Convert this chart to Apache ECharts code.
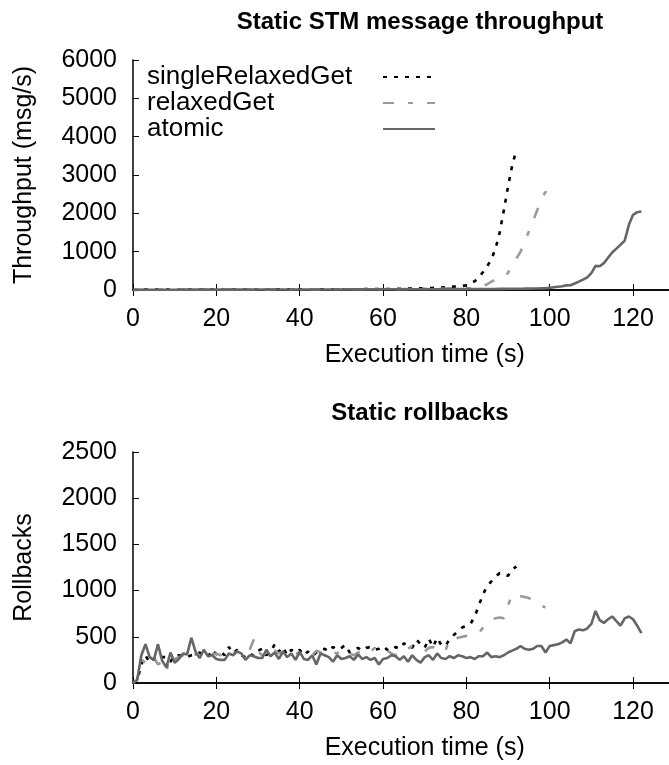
<!DOCTYPE html>
<html>
<head>
<meta charset="utf-8">
<title>Static STM message throughput / rollbacks</title>
<script src="https://cdn.jsdelivr.net/npm/echarts@6/dist/echarts.min.js"></script>
<style>
    html, body { margin: 0; padding: 0; background: #fff; }
    #chart { width: 669px; height: 765px; }
</style>
</head>
<body>
<div id="chart"></div>
<script>
// one sample per second, index = execution time (s)
const STEP_S = 1;
const seriesNames = ['singleRelaxedGet', 'relaxedGet', 'atomic'];
const xTicks = [0, 20, 40, 60, 80, 100, 120];

// throughput (msg/s)
const thrSingleRelaxedGet = [
    0, 5, 8, 10, 10, 12, 10, 12, 11, 12,
    12, 13, 12, 12, 13, 12, 14, 13, 12, 14,
    13, 14, 15, 13, 14, 15, 14, 15, 16, 15,
    15, 16, 15, 16, 17, 16, 15, 17, 16, 17,
    18, 17, 16, 18, 17, 18, 19, 18, 17, 19,
    20, 19, 21, 20, 22, 21, 23, 22, 24, 25,
    26, 28, 27, 30, 32, 34, 36, 38, 42, 45,
    48, 52, 55, 60, 66, 72, 80, 88, 95, 105,
    125, 160, 230, 330, 470, 620, 800, 1080, 1500, 2080,
    2700, 3250, 3650
];
const thrRelaxedGet = [
    0, 4, 6, 8, 8, 9, 9, 10, 10, 10,
    10, 11, 10, 11, 11, 12, 11, 12, 12, 12,
    12, 13, 12, 13, 13, 14, 13, 14, 14, 15,
    14, 15, 15, 14, 15, 16, 15, 16, 16, 15,
    16, 16, 17, 16, 17, 17, 18, 17, 18, 18,
    18, 19, 18, 19, 19, 20, 20, 21, 20, 21,
    22, 22, 23, 23, 24, 25, 25, 26, 27, 28,
    29, 30, 31, 32, 34, 35, 36, 38, 40, 42,
    45, 50, 58, 70, 100, 150, 220, 270, 290, 330,
    450, 640, 820, 1000, 1250, 1530, 1800, 2080, 2380, 2560,
    2450
];
const thrAtomic = [
    0, 3, 5, 6, 6, 7, 7, 7, 8, 8,
    8, 8, 9, 8, 9, 9, 9, 10, 9, 10,
    10, 10, 10, 11, 10, 11, 11, 11, 12, 11,
    12, 12, 12, 12, 13, 12, 13, 13, 13, 14,
    13, 14, 14, 14, 15, 14, 15, 15, 15, 16,
    15, 16, 16, 16, 17, 16, 17, 17, 17, 18,
    18, 18, 19, 18, 19, 19, 20, 19, 20, 20,
    21, 20, 21, 21, 22, 22, 22, 23, 23, 24,
    24, 25, 25, 26, 26, 27, 28, 28, 29, 30,
    31, 32, 33, 34, 35, 37, 38, 40, 42, 44,
    55, 70, 85, 100, 120, 125, 170, 220, 270, 330,
    440, 630, 620, 700, 840, 980, 1080, 1180, 1290, 1700,
    1960, 2030, 2050
];

// rollbacks
const rbSingleRelaxedGet = [
    0, 20, 200, 300, 220, 260, 240, 280, 280, 230,
    300, 300, 290, 280, 300, 310, 330, 300, 280, 360,
    310, 340, 300, 390, 320, 360, 300, 280, 320, 290,
    350, 370, 300, 330, 420, 340, 390, 300, 360, 330,
    360, 300, 340, 290, 330, 360, 370, 340, 390, 360,
    380, 410, 330, 360, 380, 350, 380, 390, 360, 370,
    400, 360, 350, 390, 370, 430, 400, 380, 470, 420,
    380, 480, 390, 490, 410, 400, 480, 520, 560, 600,
    620, 640, 720, 840, 960, 1050, 1100, 1150, 1190, 1170,
    1160, 1230, 1260
];
const rbRelaxedGet = [
    0, 40, 250, 220, 300, 280, 200, 230, 130, 300,
    260, 280, 300, 330, 280, 310, 300, 290, 330, 310,
    320, 300, 330, 350, 320, 340, 330, 310, 360, 470,
    340, 300, 330, 310, 350, 320, 340, 300, 320, 330,
    310, 340, 320, 300, 350, 330, 310, 340, 330, 320,
    370, 350, 320, 300, 330, 350, 320, 340, 380, 330,
    330, 350, 320, 300, 340, 330, 370, 400, 380, 350,
    340, 380, 390, 360, 330, 350, 480, 470, 490, 500,
    510, 520, 530, 540, 600, 650, 690, 700, 710, 700,
    840, 960, 950, 940, 930, 920, 890, 860, 830, 820
];
const rbAtomic = [
    0, 30, 300, 420, 280, 250, 420, 240, 170, 330,
    220, 260, 320, 310, 490, 340, 270, 360, 290, 300,
    260, 250, 250, 320, 300, 340, 320, 250, 300, 290,
    270, 270, 360, 290, 330, 260, 340, 280, 320, 250,
    340, 260, 250, 300, 200, 320, 300, 280, 230, 300,
    260, 270, 290, 250, 310, 260, 280, 250, 270, 200,
    260, 270, 300, 290, 250, 290, 230, 300, 250, 220,
    280, 300, 250, 320, 270, 260, 290, 270, 300, 290,
    270, 280, 260, 290, 290, 330, 280, 290, 280, 300,
    330, 350, 370, 400, 370, 360, 370, 400, 400, 330,
    400, 410, 420, 440, 470, 430, 560, 580, 570, 590,
    640, 780, 680, 650, 690, 720, 670, 620, 700, 720,
    690, 620, 540
];

const FONT = 'Liberation Sans, Arial, Helvetica, sans-serif';
const lineStyles = {
    singleRelaxedGet: { color: '#000000', width: 2.6, type: [4, 7], cap: 'butt' },
    relaxedGet: { color: '#9a9a9a', width: 2.6, type: [11, 14, 5, 14], cap: 'butt' },
    atomic: { color: '#666666', width: 2.6, type: 'solid' }
};

function toPoints(values) {
    return values.map((v, i) => [i * STEP_S, v]);
}

function makeSeries(name, values, gridIdx) {
    return {
        name: name,
        type: 'line',
        xAxisIndex: gridIdx * 2,
        yAxisIndex: gridIdx,
        showSymbol: false,
        symbol: 'none',
        animation: false,
        lineStyle: lineStyles[name],
        itemStyle: { color: lineStyles[name].color },
        data: toPoints(values)
    };
}

function bottomXAxis(gridIdx) {
    return {
        type: 'value', gridIndex: gridIdx, min: 0, max: 140, interval: 20,
        name: 'Execution time (s)', nameLocation: 'middle', nameGap: 53,
        nameTextStyle: { fontFamily: FONT, fontSize: 25, color: '#000' },
        axisLine: { show: true, onZero: false, lineStyle: { color: '#000', width: 1.5 } },
        axisTick: { inside: true, length: 6, lineStyle: { color: '#000', width: 1 } },
        axisLabel: {
            margin: 17, fontFamily: FONT, fontSize: 25, color: '#000',
            formatter: v => (xTicks.indexOf(v) >= 0 ? String(v) : '')
        },
        splitLine: { show: false }
    };
}

// mirrored ticks on the top border, like the gnuplot frame
function topXAxis(gridIdx) {
    return {
        type: 'value', gridIndex: gridIdx, position: 'top', min: 0, max: 140, interval: 20,
        axisLine: { show: true, lineStyle: { color: '#000', width: 1.5 } },
        axisTick: { inside: true, length: 6, lineStyle: { color: '#000', width: 1 } },
        axisLabel: { show: false },
        splitLine: { show: false }
    };
}

function leftYAxis(gridIdx, max, interval, name) {
    return {
        type: 'value', gridIndex: gridIdx, min: 0, max: max, interval: interval,
        name: name, nameLocation: 'middle', nameGap: 96,
        nameTextStyle: { fontFamily: FONT, fontSize: 25, color: '#000' },
        axisLine: { show: true, lineStyle: { color: '#000', width: 1.5 } },
        axisTick: { inside: true, length: 6, lineStyle: { color: '#000', width: 1 } },
        axisLabel: { margin: 16, fontFamily: FONT, fontSize: 25, color: '#000', formatter: v => String(v) },
        splitLine: { show: false }
    };
}

const PX_PER_S = 4.167;
const gridWidth = 140 * PX_PER_S;

let chartDom = document.getElementById('chart');
let myChart = echarts.init(chartDom, null, { renderer: 'canvas' });

let option = {
    backgroundColor: '#ffffff',
    animation: false,
    title: [{
        text: 'Static STM message throughput',
        left: 420, top: 10, textAlign: 'center', padding: 0,
        textStyle: { fontFamily: FONT, fontSize: 24, fontWeight: 'bold', color: '#000' }
    }, {
        text: 'Static rollbacks',
        left: 420, top: 401, textAlign: 'center', padding: 0,
        textStyle: { fontFamily: FONT, fontSize: 24, fontWeight: 'bold', color: '#000' }
    }],
    legend: {
        data: seriesNames,
        orient: 'vertical',
        left: 147,
        top: 64,
        align: 'right',
        padding: 0,
        itemGap: 0,
        itemWidth: 52,
        itemHeight: 14,
        selectedMode: false,
        itemStyle: { opacity: 0 },
        formatter: name => '{n|' + name + '}',
        textStyle: {
            color: '#000',
            rich: {
                n: { fontFamily: FONT, fontSize: 26, color: '#000', width: 231, align: 'left', lineHeight: 25.5 }
            }
        }
    },
    grid: [
        { left: 133, top: 60, width: gridWidth, height: 230, show: false, outerBoundsMode: 'none' },
        { left: 133, top: 452, width: gridWidth, height: 231, show: false, outerBoundsMode: 'none' }
    ],
    xAxis: [bottomXAxis(0), topXAxis(0), bottomXAxis(1), topXAxis(1)],
    yAxis: [
        leftYAxis(0, 6000, 1000, 'Throughput (msg/s)'),
        leftYAxis(1, 2500, 500, 'Rollbacks')
    ],
    series: [
        makeSeries('singleRelaxedGet', thrSingleRelaxedGet, 0),
        makeSeries('relaxedGet', thrRelaxedGet, 0),
        makeSeries('atomic', thrAtomic, 0),
        makeSeries('singleRelaxedGet', rbSingleRelaxedGet, 1),
        makeSeries('relaxedGet', rbRelaxedGet, 1),
        makeSeries('atomic', rbAtomic, 1)
    ]
};

myChart.setOption(option);
window.onresize = () => {
    myChart.resize();
};
</script>
</body>
</html>
